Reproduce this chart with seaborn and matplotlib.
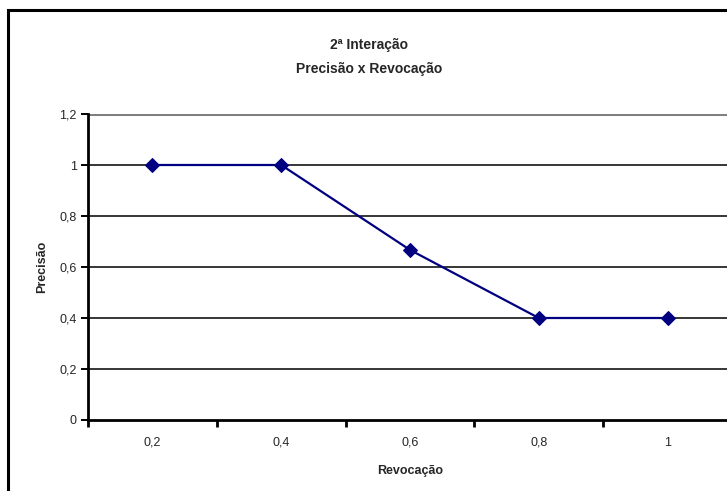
import matplotlib
matplotlib.use("Agg")
import matplotlib.pyplot as plt
import seaborn as sns
import pandas as pd
import numpy as np
from matplotlib.patches import Rectangle

categories = ["0,2", "0,4", "0,6", "0,8", "1"]
precisao = [1.0, 1.0, 0.667, 0.4, 0.4]
y_ticks = [0, 0.2, 0.4, 0.6, 0.8, 1.0, 1.2]
y_tick_labels = ["0", "0,2", "0,4", "0,6", "0,8", "1", "1,2"]

sns.set_style("white")
plt.rcParams['font.family'] = ['Liberation Sans', 'DejaVu Sans']

W, H = 727, 491
fig = plt.figure(figsize=(W / 100, H / 100), dpi=100)
fig.patch.set_facecolor("white")

# outer chart border (extends beyond right/bottom edges)
fig.add_artist(Rectangle((8 / W, -0.05), 1.2, 1 - 10 / H + 0.05, transform=fig.transFigure,
                         fill=False, edgecolor="black", linewidth=2.2, clip_on=False))

left, right, top, bottom = 88, 732, 114, 420
ax = fig.add_axes([left / W, 1 - bottom / H, (right - left) / W, (bottom - top) / H])

df = pd.DataFrame({"pos": np.arange(len(categories)), "precisao": precisao})

# gridlines
for yt in y_ticks[1:]:
    ax.axhline(yt, color="#808080" if yt == 1.2 else "black", linewidth=2.2 if yt == 1.2 else 1.1,
               zorder=1)

sns.lineplot(data=df, x="pos", y="precisao", ax=ax, color="#000080", linewidth=1.6,
             marker="D", markersize=7.5, markeredgecolor="#000080", zorder=3)

ax.set_xlim(-0.5, len(categories) - 0.5)
ax.set_ylim(0, 1.2)
ax.set_yticks(y_ticks)
ax.set_yticklabels(y_tick_labels, fontsize=9)
ax.set_xticks(np.arange(len(categories)) - 0.5, minor=False)
ax.set_xticklabels([""] * len(categories))
ax.set_xticks(np.arange(len(categories)), minor=True)
ax.set_xticklabels(categories, minor=True, fontsize=9)
ax.tick_params(axis="x", which="minor", bottom=True, length=0, pad=12)
ax.tick_params(axis="x", which="major", bottom=True, direction="out", length=5, width=2, color="black")
ax.tick_params(axis="y", left=True, direction="out", length=5, width=1.4, color="black", pad=3)

for s in ["top", "right"]:
    ax.spines[s].set_visible(False)
for s in ["left", "bottom"]:
    ax.spines[s].set_color("black")
    ax.spines[s].set_linewidth(2)

ax.set_xlabel("Revocação", fontsize=9, fontweight="bold", labelpad=12)
ax.set_ylabel("Precisão", fontsize=9, fontweight="bold", labelpad=8)

fig.text(369 / W, 1 - 45 / H, "2ª Interação", ha="center", va="center", fontsize=10, fontweight="bold")
fig.text(369 / W, 1 - 69 / H, "Precisão x Revocação", ha="center", va="center", fontsize=10, fontweight="bold")

fig.savefig("out.png", dpi=100, facecolor="white")
